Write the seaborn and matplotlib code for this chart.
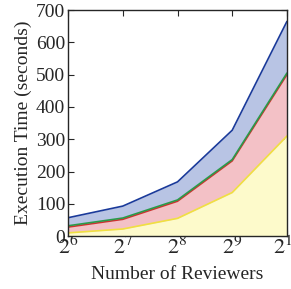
import matplotlib
matplotlib.use("Agg")
import matplotlib.pyplot as plt
import seaborn as sns
import pandas as pd

# log2 of number of reviewers
exponents = [6, 7, 8, 9, 10]
tick_labels = ["$2^{6}$", "$2^{7}$", "$2^{8}$", "$2^{9}$", "$2^{10}$"]

# cumulative execution times (seconds), bottom to top
yellow_top = [10, 22, 55, 135, 310]
red_top = [28, 52, 108, 233, 500]
green_top = [32, 56, 112, 237, 505]
blue_top = [57, 93, 168, 328, 665]

df = pd.DataFrame({"x": exponents, "yellow": yellow_top, "red": red_top,
                   "green": green_top, "blue": blue_top})

sns.set_style("ticks")
plt.rcParams['font.family'] = ['Liberation Serif', 'DejaVu Serif']
plt.rcParams['mathtext.fontset'] = 'stix'

fig = plt.figure(figsize=(2.91, 2.89), dpi=100)
ax = fig.add_axes([0.234, 0.183, 0.752, 0.782])

ax.fill_between(df["x"], 0, df["yellow"], color="#fdfacb", lw=0)
ax.fill_between(df["x"], df["yellow"], df["red"], color="#f3c1c6", lw=0)
ax.fill_between(df["x"], df["red"], df["green"], color="#c9d9b9", lw=0)
ax.fill_between(df["x"], df["green"], df["blue"], color="#b8c4e4", lw=0)

sns.lineplot(data=df, x="x", y="yellow", color="#f0e040", lw=1.2, ax=ax)
sns.lineplot(data=df, x="x", y="red", color="#d03030", lw=1.2, ax=ax)
sns.lineplot(data=df, x="x", y="green", color="#2a9a4a", lw=1.2, ax=ax)
sns.lineplot(data=df, x="x", y="blue", color="#1a3a9a", lw=1.2, ax=ax)

ax.set_xlim(6, 10)
ax.set_ylim(0, 700)
ax.set_xticks(exponents)
ax.set_xticklabels(tick_labels)
ax.set_yticks([0, 100, 200, 300, 400, 500, 600, 700])
ax.tick_params(direction="in", top=True, right=True, labelsize=14, length=4,
               width=0.8, pad=2)
ax.tick_params(axis="x", labelsize=16, pad=0)
for s in ax.spines.values():
    s.set_linewidth(1.0)
ax.set_xlabel("Number of Reviewers", fontsize=14, labelpad=5)
ax.set_ylabel("Execution Time (seconds)", fontsize=14, labelpad=3)

fig.savefig("out.png", dpi=100)
